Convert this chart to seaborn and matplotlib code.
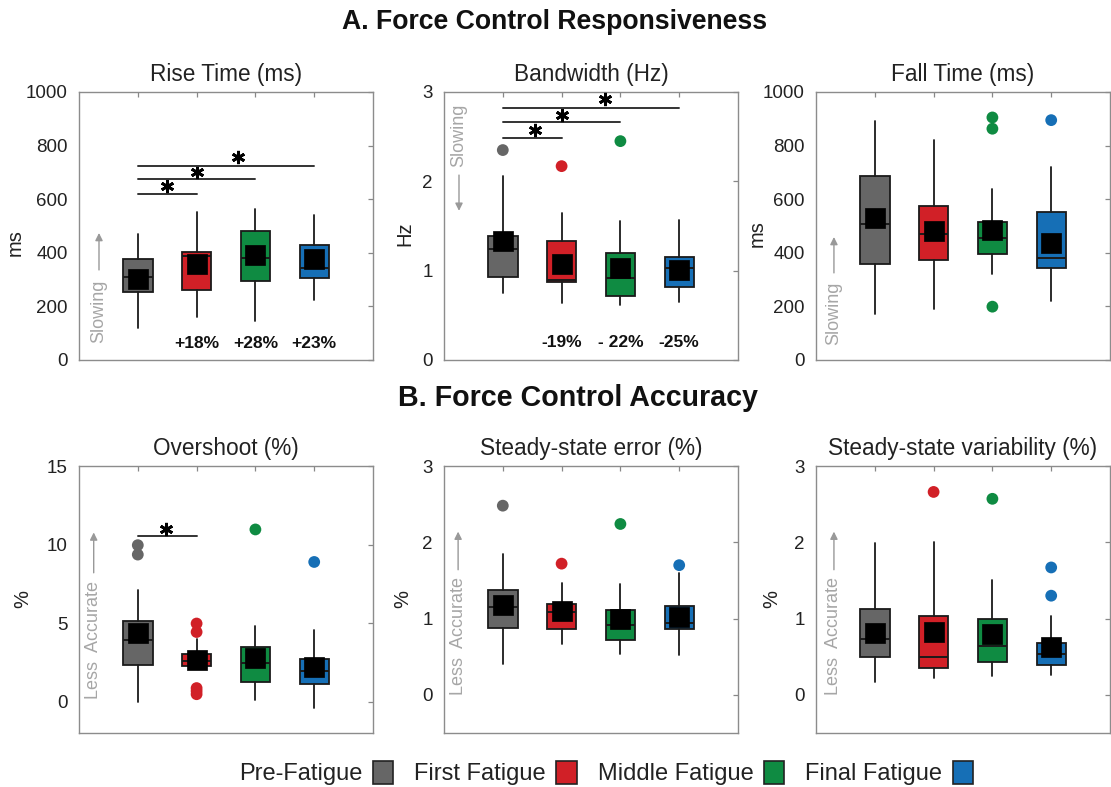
import numpy as np
import pandas as pd
import matplotlib
matplotlib.use("Agg")
import matplotlib.pyplot as plt
from matplotlib.patches import Patch
import seaborn as sns

# ---------------------------------------------------------------- data
groups = ["Pre-Fatigue", "First Fatigue", "Middle Fatigue", "Final Fatigue"]
palette = ["#666666", "#d12027", "#0f8b42", "#166fb6"]

# Rise time (ms)
rise_lo = [120, 160, 145, 225]
rise_q1 = [253, 262, 293, 305]
rise_med = [308, 388, 382, 342]
rise_q3 = [377, 403, 482, 430]
rise_hi = [472, 553, 563, 540]
rise_mean = [303, 358, 392, 375]
rise_out = [[], [], [], []]

# Bandwidth (Hz)
bw_lo = [0.75, 0.64, 0.62, 0.65]
bw_q1 = [0.93, 0.87, 0.72, 0.82]
bw_med = [1.24, 0.90, 0.92, 1.03]
bw_q3 = [1.39, 1.33, 1.20, 1.15]
bw_hi = [2.06, 1.64, 1.56, 1.57]
bw_mean = [1.33, 1.08, 1.03, 1.01]
bw_out = [[2.35], [2.17], [2.45], []]

# Fall time (ms)
fall_lo = [172, 189, 320, 222]
fall_q1 = [357, 374, 395, 342]
fall_med = [506, 469, 455, 380]
fall_q3 = [687, 573, 514, 553]
fall_hi = [893, 822, 638, 722]
fall_mean = [530, 482, 486, 438]
fall_out = [[], [], [905, 863, 199], [895]]

# Overshoot (%)
over_lo = [0.0, 2.1, 0.11, -0.39]
over_q1 = [2.36, 2.25, 1.22, 1.11]
over_med = [3.92, 2.6, 2.46, 1.97]
over_q3 = [5.10, 3.0, 3.47, 2.74]
over_hi = [7.13, 3.96, 4.82, 4.56]
over_mean = [4.35, 2.62, 2.78, 2.2]
over_out = [[9.96, 9.36], [4.97, 4.43, 0.86, 0.67, 0.47], [10.96], [8.89]]

# Steady-state error (%)
sse_lo = [0.41, 0.67, 0.53, 0.52]
sse_q1 = [0.88, 0.86, 0.72, 0.86]
sse_med = [1.15, 1.08, 0.91, 0.94]
sse_q3 = [1.38, 1.19, 1.11, 1.17]
sse_hi = [1.85, 1.46, 1.45, 1.60]
sse_mean = [1.18, 1.10, 1.00, 1.02]
sse_out = [[2.48], [1.72], [2.24], [1.70]]

# Steady-state variability (%)
ssv_lo = [0.17, 0.22, 0.25, 0.26]
ssv_q1 = [0.50, 0.35, 0.43, 0.39]
ssv_med = [0.73, 0.50, 0.64, 0.53]
ssv_q3 = [1.12, 1.04, 0.99, 0.68]
ssv_hi = [1.99, 2.00, 1.50, 1.04]
ssv_mean = [0.81, 0.82, 0.80, 0.63]
ssv_out = [[], [2.66], [2.57], [1.67, 1.30]]

rise_change = ["", "+18%", "+28%", "+23%"]
bw_change = ["", "-19%", "- 22%", "-25%"]

# ---------------------------------------------------------------- style
sns.set_theme(style="white")
plt.rcParams["font.family"] = ["Liberation Sans", "DejaVu Sans"]
plt.rcParams["text.color"] = "#222222"
plt.rcParams["axes.labelcolor"] = "#222222"

W, H = 1111, 787
fig = plt.figure(figsize=(W / 100, H / 100), dpi=100)


def px_axes(left, top, width, height):
    return fig.add_axes([left / W, 1 - (top + height) / H, width / W, height / H])


def draw_panel(ax, title, ylabel, lo, q1, med, q3, hi, mean, out,
               ylim, yticks, ylabel_x, ylabel_y):
    stats = [dict(whislo=lo[i], q1=q1[i], med=med[i], q3=q3[i], whishi=hi[i],
                  fliers=[]) for i in range(4)]
    pos = np.arange(1, 5)
    bp = ax.bxp(stats, positions=pos, widths=0.5, patch_artist=True,
                showcaps=False, showfliers=False,
                boxprops=dict(edgecolor="#1a1a1a", linewidth=1.3),
                whiskerprops=dict(color="#1a1a1a", linewidth=1.3),
                medianprops=dict(color="#1a1a1a", linewidth=1.4))
    for patch, c in zip(bp["boxes"], palette):
        patch.set_facecolor(c)
    for artist in bp["boxes"] + bp["whiskers"] + bp["medians"]:
        artist.set_zorder(2)

    # outliers
    rows = [(pos[i], v, groups[i]) for i in range(4) for v in out[i]]
    if rows:
        odf = pd.DataFrame(rows, columns=["x", "y", "group"])
        sns.scatterplot(data=odf, x="x", y="y", hue="group", hue_order=groups,
                        palette=palette, s=72, linewidth=0, legend=False,
                        ax=ax, zorder=3)

    # group means
    mdf = pd.DataFrame({"x": pos, "y": mean})
    sns.scatterplot(data=mdf, x="x", y="y", marker="s", s=190, color="black",
                    edgecolor="black", linewidth=0.5, legend=False, ax=ax,
                    zorder=4)

    ax.set_xlim(0, 5)
    ax.set_ylim(*ylim)
    ax.set_yticks(yticks)
    ax.set_xticks(pos)
    ax.set_xticklabels([])
    ax.set_xlabel("")
    ax.set_ylabel(ylabel, fontsize=14.5)
    ax.yaxis.set_label_coords(ylabel_x, ylabel_y)
    ax.set_title(title, fontsize=16.3, pad=8)
    ax.tick_params(axis="both", direction="in", length=3.5, width=0.9,
                   color="#888888", top=True, right=True, labelsize=13.5,
                   labelcolor="#222222")
    ax.tick_params(axis="y", pad=8)
    ax.tick_params(axis="x", pad=2)
    for sp in ax.spines.values():
        sp.set_color("#8c8c8c")
        sp.set_linewidth(1.0)
        sp.set_visible(True)


def sig_bar(ax, x0, x1, y, xs, ys):
    ax.plot([x0, x1], [y, y], color="#333333", lw=1.4, zorder=3)
    ax.plot([xs], [ys], marker=(6, 2, 0), ms=9.5, mew=2.0, color="black",
            zorder=3)


def hint(ax, text, ytext, y0, y1, x):
    blend = matplotlib.transforms.blended_transform_factory(ax.transAxes,
                                                            ax.transData)
    ax.text(x, ytext, text, transform=blend, rotation=90, ha="center",
            va="center", color="#a6a6a6", fontsize=13)
    ax.annotate("", xy=(x, y1), xytext=(x, y0), xycoords=blend,
                textcoords=blend,
                arrowprops=dict(arrowstyle="-|>", color="#999999", lw=1.0,
                                mutation_scale=11, shrinkA=0, shrinkB=0))


lefts = [79, 444, 816]
aw = 294

# ---------------------------------------------------------------- row A
ax = px_axes(lefts[0], 92, aw, 268)
draw_panel(ax, "Rise Time (ms)", "ms", rise_lo, rise_q1, rise_med, rise_q3,
           rise_hi, rise_mean, rise_out, (0, 1000), [0, 200, 400, 600, 800, 1000],
           -0.184, 0.44)
sig_bar(ax, 1, 2, 620, 1.5, 648)
sig_bar(ax, 1, 3, 675, 2.0, 702)
sig_bar(ax, 1, 4, 725, 2.7, 757)
for i, t in enumerate(rise_change):
    ax.text(i + 1, 62, t, ha="center", va="center", fontsize=12.5,
            fontweight="bold", color="#111111")
hint(ax, "Slowing", 183, 336, 474, 0.068)

ax = px_axes(lefts[1], 92, aw, 268)
draw_panel(ax, "Bandwidth (Hz)", "Hz", bw_lo, bw_q1, bw_med, bw_q3, bw_hi,
           bw_mean, bw_out, (0, 3), [0, 1, 2, 3], -0.102, 0.47)
sig_bar(ax, 1, 2, 2.49, 1.55, 2.58)
sig_bar(ax, 1, 3, 2.66, 2.0, 2.74)
sig_bar(ax, 1, 4, 2.82, 2.73, 2.92)
for i, t in enumerate(bw_change):
    ax.text(i + 1, 0.2, t, ha="center", va="center", fontsize=12.5,
            fontweight="bold", color="#111111")
hint(ax, "Slowing", 2.52, 2.07, 1.67, 0.051)

ax = px_axes(lefts[2], 92, aw, 268)
draw_panel(ax, "Fall Time (ms)", "ms", fall_lo, fall_q1, fall_med, fall_q3,
           fall_hi, fall_mean, fall_out, (0, 1000),
           [0, 200, 400, 600, 800, 1000], -0.167, 0.47)
hint(ax, "Slowing", 175, 325, 459, 0.061)

# ---------------------------------------------------------------- row B
ax = px_axes(lefts[0], 466, aw, 267)
draw_panel(ax, "Overshoot (%)", "%", over_lo, over_q1, over_med, over_q3,
           over_hi, over_mean, over_out, (-2, 15), [0, 5, 10, 15], -0.16, 0.5)
sig_bar(ax, 1, 2, 10.56, 1.48, 10.98)
hint(ax, "Less  Accurate", 3.9, 8.2, 10.77, 0.05)

ax = px_axes(lefts[1], 466, aw, 267)
draw_panel(ax, "Steady-state error (%)", "%", sse_lo, sse_q1, sse_med, sse_q3,
           sse_hi, sse_mean, sse_out, (-0.5, 3), [0, 1, 2, 3], -0.109, 0.5)
hint(ax, "Less  Accurate", 0.77, 1.64, 2.14, 0.048)

ax = px_axes(lefts[2], 466, aw, 267)
draw_panel(ax, "Steady-state variability (%)", "%", ssv_lo, ssv_q1, ssv_med,
           ssv_q3, ssv_hi, ssv_mean, ssv_out, (-0.5, 3), [0, 1, 2, 3],
           -0.117, 0.5)
hint(ax, "Less  Accurate", 0.77, 1.64, 2.14, 0.061)

# ---------------------------------------------------------------- headings
fig.text(555 / W, 1 - 22 / H, "A. Force Control Responsiveness", ha="center",
         va="center", fontsize=19.2, fontweight="bold", color="#111111")
fig.text(578 / W, 1 - 398 / H, "B. Force Control Accuracy", ha="center",
         va="center", fontsize=20.6, fontweight="bold", color="#111111")

# ---------------------------------------------------------------- legend
handles = [Patch(facecolor=c, edgecolor="#222222", linewidth=1.2)
           for c in palette]
fig.legend(handles, groups, loc="center", bbox_to_anchor=(606 / W, 1 - 773 / H),
           ncol=4, markerfirst=False, frameon=False, fontsize=17,
           handlelength=0.85, handleheight=1.15, handletextpad=0.45,
           columnspacing=0.9)

fig.savefig("out.png", dpi=100)
